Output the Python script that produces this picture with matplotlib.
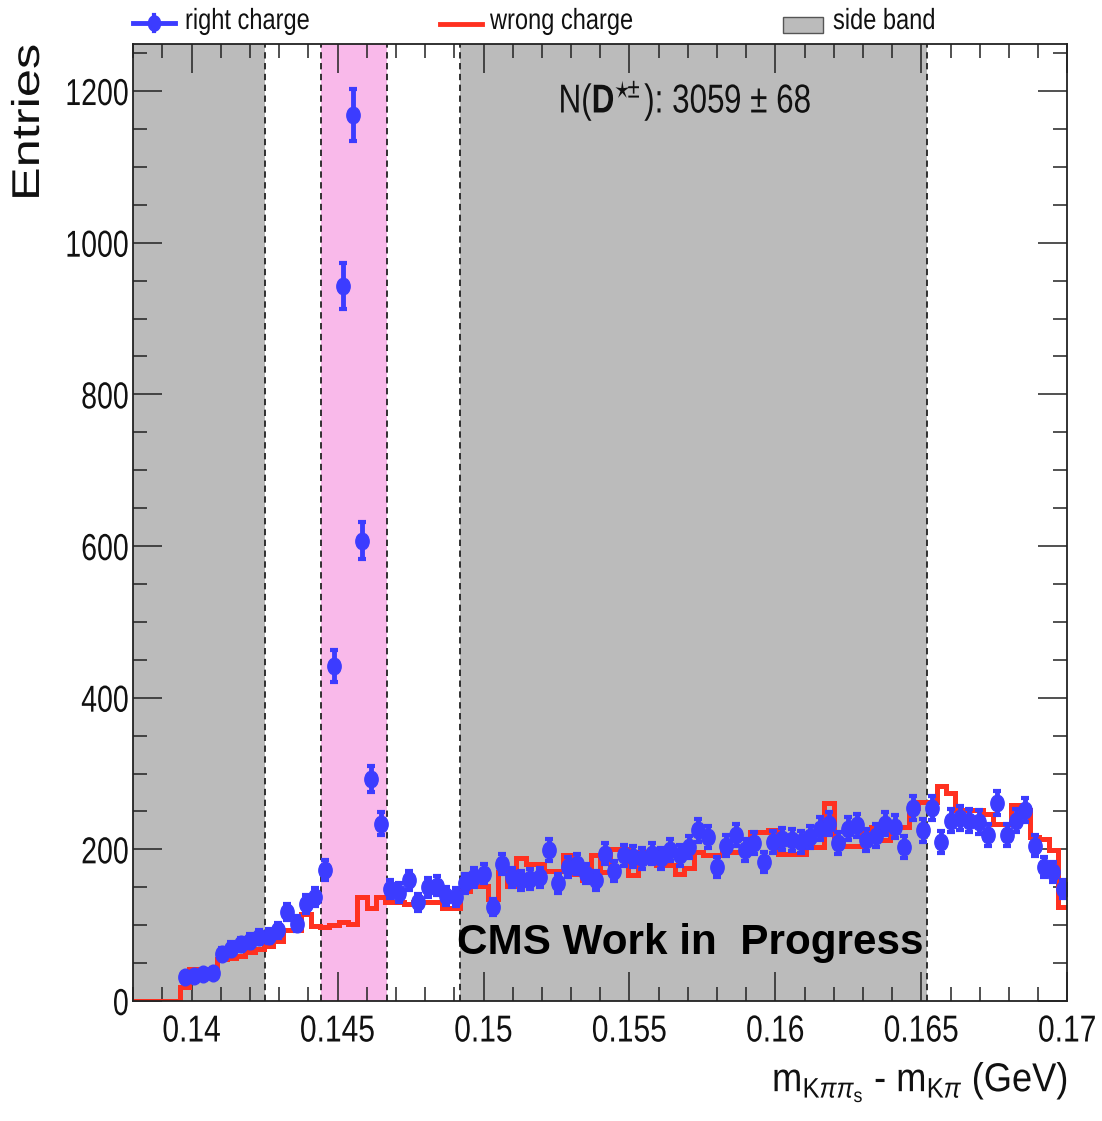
import numpy as np
import matplotlib
matplotlib.use('Agg')
import matplotlib.pyplot as plt
from matplotlib.patches import Rectangle
from matplotlib.lines import Line2D
from matplotlib.path import Path
from matplotlib.patheffects import AbstractPathEffect
from matplotlib.transforms import Affine2D

# 100 bins in m(K pi pi_s) - m(K pi)
bin_edges = np.linspace(0.138, 0.17, 101)
first_rc_bin = 5  # right charge points start at bin 5

right_charge = [31, 33, 35, 37, 62, 69, 75, 79, 84, 86,
                93, 117, 102, 128, 137, 173, 442, 943, 1168, 607,
                293, 234, 148, 143, 159, 130, 150, 152, 139, 137,
                155, 163, 168, 124, 181, 163, 159, 161, 163, 199,
                155, 177, 181, 168, 159, 194, 172, 192, 190, 188,
                194, 188, 199, 192, 203, 225, 216, 177, 205, 219,
                199, 208, 183, 210, 214, 212, 210, 216, 227, 234,
                208, 227, 232, 212, 218, 234, 230, 203, 254, 225,
                254, 210, 238, 241, 238, 236, 219, 261, 219, 238,
                252, 205, 177, 170, 148]

wrong_charge = [0, 0, 0, 0, 0, 18, 42, 42, 42, 55,
                57, 60, 64, 68, 72, 79, 93, 93, 115, 99,
                97, 100, 104, 101, 137, 122, 137, 130, 130, 128,
                130, 130, 130, 122, 122, 145, 152, 152, 135, 170,
                152, 188, 181, 181, 172, 172, 192, 168, 159, 192,
                170, 201, 201, 166, 196, 196, 179, 179, 168, 175,
                196, 192, 192, 196, 196, 196, 223, 223, 225, 194,
                194, 194, 203, 203, 261, 212, 205, 205, 223, 230,
                212, 230, 230, 254, 263, 263, 283, 274, 252, 252,
                252, 247, 234, 234, 258, 252, 216, 214, 199, 124]

side_band_low = (0.138, 0.1425)
side_band_high = (0.1492, 0.1652)
signal_window = (0.14444, 0.14668)

x_ticks = [0.14, 0.145, 0.15, 0.155, 0.16, 0.165, 0.17]
x_tick_labels = ['0.14', '0.145', '0.15', '0.155', '0.16', '0.165', '0.17']
y_ticks = [0, 200, 400, 600, 800, 1000, 1200]

blue = '#3c3cff'
red = '#ff3120'
gray = '#bbbbbb'
pink = '#f9b9ea'


class Squeeze(AbstractPathEffect):
    """Draw text squeezed (narrow font look), keeping its anchor fixed."""

    def __init__(self, sx=0.82, sy=1.0, anchor='center'):
        super().__init__()
        self.sx, self.sy, self.anchor = sx, sy, anchor

    def draw_path(self, renderer, gc, tpath, affine, rgbFace=None):
        v = tpath.vertices
        if len(v) == 0:
            return
        x0, x1 = v[:, 0].min(), v[:, 0].max()
        y0, y1 = v[:, 1].min(), v[:, 1].max()
        cx = {'left': x0, 'center': 0.5 * (x0 + x1), 'right': x1}[self.anchor]
        cy = 0.5 * (y0 + y1)
        t = Affine2D().translate(-cx, -cy).scale(self.sx, self.sy).translate(cx, cy) + affine
        renderer.draw_path(gc, tpath, t, rgbFace)


plt.rcParams['font.family'] = ['Liberation Sans', 'DejaVu Sans']
plt.rcParams['mathtext.fontset'] = 'custom'
plt.rcParams['mathtext.rm'] = 'Liberation Sans'
plt.rcParams['mathtext.it'] = 'Liberation Sans:italic'
plt.rcParams['mathtext.bf'] = 'Liberation Sans:bold'

W, H = 1102, 1121
fig = plt.figure(figsize=(W / 100, H / 100), dpi=100)
ax = fig.add_axes([133.3 / W, 1 - 1001 / H, 934 / W, 957 / H])

centers = 0.5 * (bin_edges[:-1] + bin_edges[1:])
rc = np.array(right_charge, dtype=float)
wc = np.array(wrong_charge, dtype=float)

# bands
ax.axvspan(*side_band_low, color=gray, lw=0, zorder=0)
ax.axvspan(*side_band_high, color=gray, lw=0, zorder=0)
ax.axvspan(*signal_window, color=pink, lw=0, zorder=0)
for xv in [side_band_low[1], signal_window[0], signal_window[1], side_band_high[0], side_band_high[1]]:
    ax.axvline(xv, color='#222222', lw=1.3, ls=(0, (3.5, 2.5)), zorder=1)

# wrong charge histogram
ax.stairs(wc, bin_edges, baseline=None, color=red, lw=3.6, zorder=2)

# right charge points (slightly tall ellipse markers)
circ = Path.unit_circle()
ellipse = Path(circ.vertices * [0.8, 1.0], circ.codes)
ax.errorbar(centers[first_rc_bin:], rc, yerr=np.sqrt(rc), fmt='none', ecolor=blue,
            elinewidth=3.5, capsize=3, capthick=3, zorder=3)
ax.plot(centers[first_rc_bin:], rc, ls='none', marker=ellipse, ms=12,
        color=blue, zorder=3)

ax.set_xlim(0.138, 0.17)
ax.set_ylim(0, 1262)
ax.set_xticks(x_ticks)
ax.set_xticklabels(x_tick_labels)
ax.set_yticks(y_ticks)
ax.set_xticks(np.arange(0.138, 0.1705, 0.001), minor=True)
ax.set_yticks(np.arange(0, 1262, 50), minor=True)
ax.tick_params(which='both', direction='in', top=True, right=True,
               color='#222222', width=1.1)
ax.tick_params(which='major', length=21)
ax.tick_params(which='minor', length=10)
ax.tick_params(axis='x', which='major', pad=9)
ax.tick_params(axis='y', which='major', pad=3)
for lab in ax.get_xticklabels():
    lab.set_fontsize(27)
    lab.set_color('#111111')
    lab.set_path_effects([Squeeze(0.8, anchor='center')])
for lab in ax.get_yticklabels():
    lab.set_fontsize(27)
    lab.set_color('#111111')
    lab.set_path_effects([Squeeze(0.76, anchor='right')])
for s in ax.spines.values():
    s.set_linewidth(1.3)
    s.set_color('#222222')
    s.set_zorder(5)

# texts
ax.text(0.5907, 0.941, r'N($\mathbf{D}^{\star\!\!\pm}$): 3059 $\pm$ 68',
        transform=ax.transAxes, ha='center', va='center', fontsize=29,
        color='#111111', path_effects=[Squeeze(0.78, anchor='center')])
ax.text(0.14909, 76, 'CMS Work in  Progress', ha='left', va='center',
        fontsize=30.4, fontweight='bold', color='black', zorder=4)

fig.text(30 / W, 1 - 44 / H, 'Entries', rotation=90, ha='center', va='top',
         fontsize=34, color='#111111',
         path_effects=[Squeeze(1.07, 0.82, anchor='right')])
fig.text(1068 / W, 1 - 1082 / H,
         r'm$_{\mathrm{K}\pi\pi_{\mathrm{s}}}$ - m$_{\mathrm{K}\pi}$ (GeV)',
         ha='right', va='center', fontsize=29, color='#111111',
         path_effects=[Squeeze(0.9, anchor='right')])


# legend above the frame
def fx(x):
    return x / W


def fy(y):
    return 1 - y / H


fig.add_artist(Line2D([fx(133), fx(175)], [fy(23), fy(23)], color=blue, lw=3.5))
fig.add_artist(Line2D([fx(154), fx(154)], [fy(15), fy(31)], color=blue, lw=3))
fig.add_artist(Line2D([fx(154)], [fy(23)], marker=ellipse, color=blue, ms=11))
fig.add_artist(Line2D([fx(440), fx(482)], [fy(24), fy(24)], color=red, lw=3.5))
fig.add_artist(Rectangle((fx(783), fy(33)), fx(40), 16 / H, facecolor=gray,
                         edgecolor='#555555', lw=1))
for x0, lab in [(185, 'right charge'), (490, 'wrong charge'), (833, 'side band')]:
    fig.text(fx(x0), fy(21), lab, ha='left', va='center', fontsize=21,
             color='#111111', path_effects=[Squeeze(0.81, anchor='left')])

fig.savefig('out.png', dpi=100)
